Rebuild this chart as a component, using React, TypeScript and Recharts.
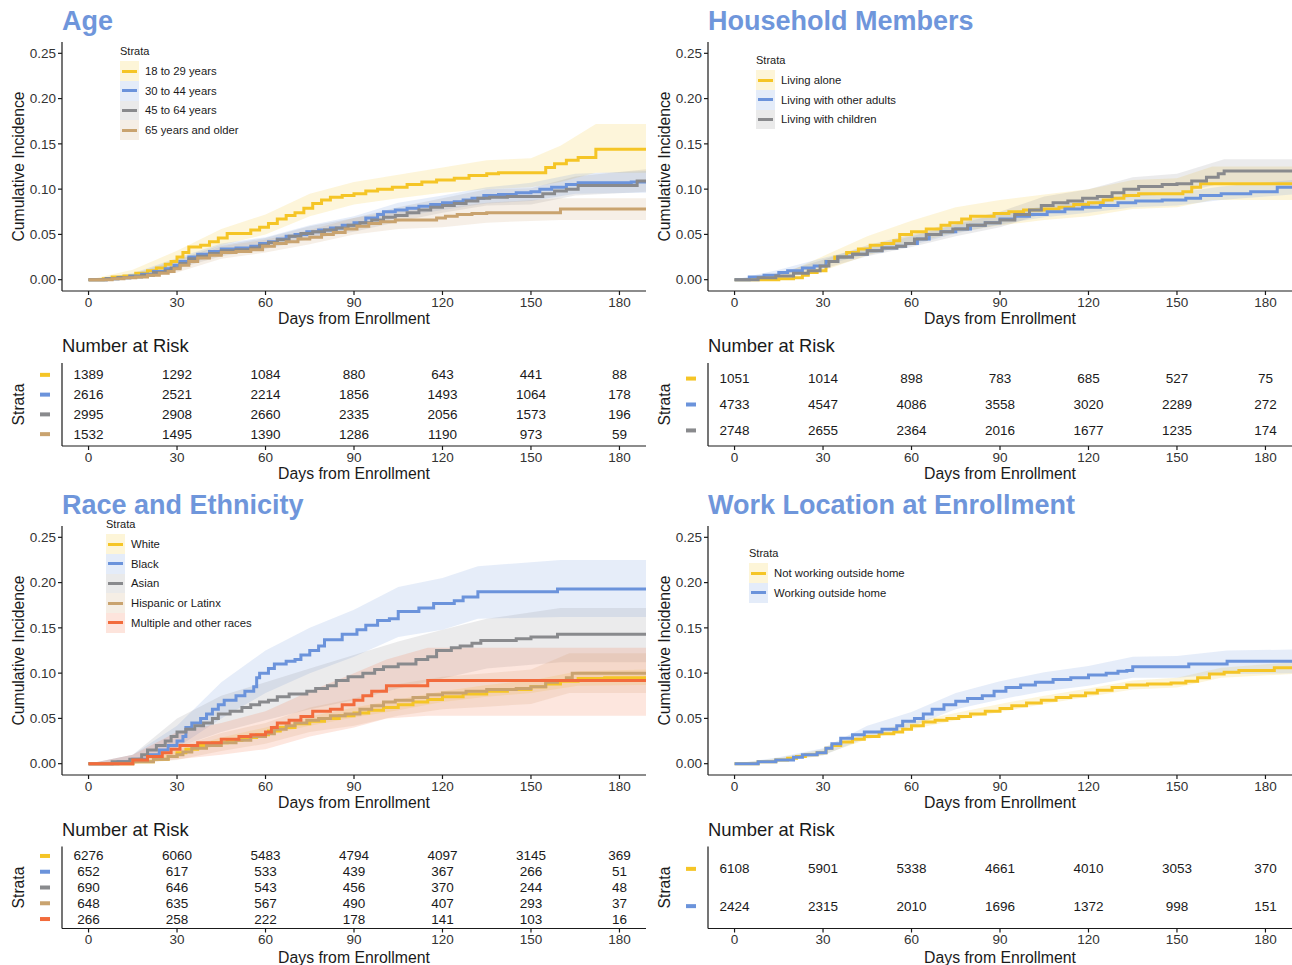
import React from 'react';
import { ComposedChart, ScatterChart, Line, Area, Scatter, XAxis, YAxis } from 'recharts';

const days = [0, 30, 60, 90, 120, 150, 180];
const incidenceTicks = [0, 0.05, 0.1, 0.15, 0.2, 0.25];

const YELLOW = '#F5C526';
const BLUE = '#6B93DB';
const GRAY = '#898A8D';
const TAN = '#C9A36F';
const ORANGE = '#F26B3C';
const TITLE = '#6F96DB';
const INK = '#1a1a1a';

// ---- Age: [day, cumulative incidence] ----
const age18to29 = [[0,0],[5,0.001],[8,0.003],[12,0.004],[16,0.007],[20,0.01],[23,0.013],[26,0.017],[28,0.02],[30,0.025],[32,0.03],[34,0.036],[38,0.038],[41,0.042],[44,0.046],[47,0.051],[55,0.055],[58,0.058],[61,0.062],[64,0.067],[67,0.071],[70,0.074],[73,0.079],[76,0.084],[79,0.088],[82,0.091],[86,0.093],[90,0.095],[94,0.098],[98,0.1],[103,0.102],[108,0.105],[113,0.108],[118,0.11],[124,0.112],[129,0.115],[135,0.117],[139,0.118],[155,0.124],[158,0.128],[162,0.132],[166,0.135],[172,0.144],[189,0.144]];
const age30to44 = [[0,0],[6,0.001],[10,0.002],[14,0.004],[18,0.006],[22,0.009],[26,0.012],[29,0.016],[31,0.02],[34,0.025],[37,0.028],[41,0.031],[45,0.034],[50,0.035],[55,0.037],[58,0.04],[61,0.042],[64,0.045],[67,0.048],[70,0.05],[74,0.053],[78,0.055],[82,0.057],[86,0.06],[90,0.063],[94,0.068],[98,0.072],[100,0.075],[104,0.077],[108,0.079],[112,0.081],[116,0.083],[120,0.085],[124,0.086],[127,0.088],[130,0.09],[134,0.093],[139,0.094],[145,0.096],[150,0.097],[153,0.1],[157,0.102],[162,0.105],[166,0.107],[184,0.108],[189,0.108]];
const age45to64 = [[0,0],[6,0.001],[10,0.002],[14,0.003],[18,0.005],[22,0.008],[26,0.01],[28,0.013],[31,0.018],[34,0.023],[37,0.026],[41,0.029],[45,0.032],[50,0.033],[55,0.035],[58,0.038],[61,0.041],[64,0.044],[68,0.048],[72,0.051],[76,0.053],[80,0.055],[84,0.057],[88,0.06],[92,0.063],[96,0.066],[100,0.069],[104,0.071],[108,0.074],[112,0.077],[116,0.08],[120,0.082],[124,0.084],[128,0.087],[132,0.09],[136,0.091],[142,0.092],[154,0.095],[158,0.098],[162,0.1],[166,0.104],[186,0.109],[189,0.109]];
const age65plus = [[0,0],[8,0.001],[12,0.002],[16,0.003],[20,0.005],[24,0.007],[27,0.009],[29,0.012],[31,0.016],[34,0.02],[37,0.024],[41,0.027],[45,0.03],[50,0.031],[55,0.033],[59,0.037],[63,0.04],[67,0.042],[71,0.045],[75,0.047],[79,0.05],[83,0.052],[87,0.056],[91,0.059],[95,0.062],[99,0.064],[104,0.066],[118,0.068],[121,0.07],[125,0.072],[130,0.073],[135,0.074],[160,0.078],[189,0.078]];
// confidence bands: [day, lower, upper]
const age18to29Band = [[0,0,0],[15,0.003,0.011],[30,0.018,0.032],[45,0.038,0.056],[60,0.05,0.072],[75,0.07,0.095],[90,0.083,0.108],[105,0.09,0.116],[120,0.096,0.124],[135,0.1,0.132],[150,0.102,0.134],[160,0.108,0.148],[172,0.118,0.172],[189,0.118,0.172]];
const age30to44Band = [[0,0,0],[15,0.002,0.007],[30,0.014,0.024],[45,0.028,0.04],[60,0.035,0.047],[75,0.046,0.06],[90,0.056,0.07],[105,0.069,0.085],[120,0.077,0.093],[135,0.084,0.102],[150,0.087,0.107],[165,0.095,0.117],[189,0.096,0.12]];
const age45to64Band = [[0,0,0],[15,0.001,0.006],[30,0.012,0.022],[45,0.026,0.038],[60,0.034,0.046],[75,0.045,0.059],[90,0.053,0.068],[105,0.064,0.08],[120,0.074,0.09],[135,0.082,0.1],[150,0.083,0.101],[165,0.093,0.114],[189,0.097,0.122]];
const age65plusBand = [[0,0,0],[15,0.001,0.005],[30,0.008,0.018],[45,0.023,0.037],[60,0.03,0.044],[75,0.039,0.055],[90,0.05,0.068],[105,0.056,0.076],[120,0.058,0.08],[135,0.063,0.085],[160,0.066,0.09],[189,0.066,0.09]];
const riskAge18to29 = [1389, 1292, 1084, 880, 643, 441, 88];
const riskAge30to44 = [2616, 2521, 2214, 1856, 1493, 1064, 178];
const riskAge45to64 = [2995, 2908, 2660, 2335, 2056, 1573, 196];
const riskAge65plus = [1532, 1495, 1390, 1286, 1190, 973, 59];

// ---- Household members ----
const hhAlone = [[0,0],[15,0.001],[20,0.002],[23,0.005],[25,0.008],[28,0.01],[31,0.02],[34,0.025],[38,0.03],[42,0.034],[46,0.038],[50,0.04],[54,0.043],[56,0.05],[60,0.053],[65,0.056],[70,0.06],[73,0.063],[77,0.067],[80,0.07],[88,0.073],[93,0.075],[98,0.077],[105,0.078],[110,0.08],[115,0.083],[120,0.085],[125,0.088],[128,0.09],[132,0.093],[137,0.095],[152,0.097],[155,0.102],[158,0.106],[189,0.106]];
const hhAdults = [[0,0],[5,0.003],[10,0.005],[15,0.008],[18,0.01],[23,0.013],[27,0.015],[31,0.02],[35,0.025],[40,0.028],[45,0.032],[50,0.035],[55,0.037],[58,0.04],[62,0.045],[66,0.05],[70,0.053],[75,0.056],[80,0.06],[85,0.063],[90,0.067],[95,0.07],[100,0.072],[106,0.075],[112,0.078],[118,0.08],[124,0.082],[130,0.085],[136,0.087],[145,0.088],[153,0.09],[158,0.093],[165,0.095],[175,0.097],[184,0.102],[189,0.102]];
const hhChildren = [[0,0],[8,0.002],[14,0.004],[20,0.007],[25,0.01],[29,0.015],[32,0.02],[35,0.025],[40,0.028],[45,0.032],[50,0.035],[55,0.037],[58,0.04],[61,0.045],[65,0.05],[70,0.053],[74,0.056],[79,0.06],[85,0.063],[90,0.066],[95,0.072],[100,0.077],[104,0.082],[108,0.085],[113,0.087],[118,0.09],[123,0.092],[128,0.096],[132,0.1],[137,0.103],[145,0.105],[150,0.106],[155,0.109],[160,0.113],[164,0.117],[166,0.12],[189,0.12]];
const hhAloneBand = [[0,0,0],[15,0,0.004],[30,0.01,0.026],[45,0.027,0.048],[60,0.04,0.065],[75,0.052,0.08],[90,0.06,0.088],[105,0.066,0.094],[120,0.07,0.1],[135,0.078,0.11],[150,0.08,0.112],[162,0.088,0.125],[189,0.088,0.125]];
const hhAdultsBand = [[0,0,0],[15,0.005,0.011],[30,0.016,0.024],[45,0.028,0.036],[60,0.038,0.048],[75,0.051,0.061],[90,0.061,0.073],[105,0.069,0.081],[120,0.074,0.086],[135,0.08,0.094],[150,0.082,0.096],[165,0.088,0.103],[189,0.094,0.11]];
const hhChildrenBand = [[0,0,0],[15,0.002,0.007],[30,0.012,0.022],[45,0.026,0.038],[60,0.036,0.05],[75,0.048,0.064],[90,0.058,0.075],[105,0.073,0.092],[120,0.081,0.1],[135,0.092,0.113],[150,0.095,0.117],[166,0.107,0.133],[189,0.107,0.133]];
const riskHhAlone = [1051, 1014, 898, 783, 685, 527, 75];
const riskHhAdults = [4733, 4547, 4086, 3558, 3020, 2289, 272];
const riskHhChildren = [2748, 2655, 2364, 2016, 1677, 1235, 174];

// ---- Race and ethnicity ----
const raceWhite = [[0,0],[15,0.002],[22,0.005],[27,0.008],[30,0.012],[33,0.016],[37,0.02],[42,0.023],[47,0.026],[52,0.029],[57,0.032],[61,0.036],[65,0.04],[70,0.044],[75,0.047],[80,0.05],[85,0.053],[90,0.056],[95,0.059],[100,0.062],[105,0.065],[110,0.068],[115,0.071],[120,0.074],[127,0.077],[135,0.08],[142,0.082],[150,0.085],[155,0.088],[160,0.091],[166,0.094],[175,0.095],[189,0.096]];
const raceBlack = [[0,0],[10,0.002],[15,0.005],[20,0.01],[24,0.015],[27,0.02],[30,0.025],[32,0.03],[33,0.04],[35,0.045],[38,0.05],[40,0.055],[42,0.06],[44,0.065],[46,0.07],[50,0.075],[53,0.08],[56,0.085],[57,0.095],[58,0.1],[61,0.105],[63,0.11],[67,0.113],[70,0.115],[72,0.12],[75,0.125],[78,0.13],[80,0.137],[86,0.143],[91,0.148],[94,0.153],[98,0.158],[102,0.16],[105,0.168],[112,0.172],[117,0.177],[124,0.18],[127,0.184],[132,0.19],[159,0.193],[189,0.193]];
const raceAsian = [[0,0],[8,0.002],[14,0.005],[18,0.01],[20,0.015],[23,0.02],[26,0.025],[28,0.03],[30,0.035],[33,0.038],[36,0.042],[39,0.045],[42,0.05],[44,0.055],[48,0.058],[52,0.062],[55,0.065],[58,0.068],[61,0.07],[64,0.074],[68,0.077],[74,0.08],[77,0.083],[81,0.086],[84,0.092],[88,0.096],[93,0.1],[97,0.104],[100,0.107],[105,0.11],[111,0.115],[115,0.118],[118,0.125],[123,0.128],[126,0.13],[130,0.133],[133,0.136],[145,0.138],[150,0.14],[159,0.143],[189,0.143]];
const raceHispanic = [[0,0],[15,0.002],[22,0.005],[27,0.008],[30,0.01],[32,0.013],[35,0.017],[40,0.02],[45,0.023],[50,0.026],[55,0.03],[60,0.033],[63,0.038],[67,0.042],[70,0.045],[74,0.048],[78,0.05],[82,0.053],[87,0.055],[92,0.06],[96,0.064],[100,0.068],[104,0.07],[110,0.073],[115,0.076],[120,0.078],[128,0.08],[135,0.082],[145,0.083],[150,0.085],[155,0.09],[159,0.092],[162,0.095],[164,0.1],[189,0.1]];
const raceMultiple = [[0,0],[15,0.004],[20,0.008],[25,0.012],[28,0.016],[31,0.02],[37,0.023],[45,0.027],[51,0.03],[55,0.032],[60,0.035],[62,0.04],[64,0.045],[68,0.048],[72,0.052],[76,0.058],[82,0.06],[86,0.065],[90,0.07],[93,0.075],[96,0.08],[101,0.086],[115,0.092],[189,0.092]];
const raceWhiteBand = [[0,0,0],[15,0.001,0.003],[30,0.009,0.015],[45,0.021,0.029],[60,0.031,0.04],[75,0.042,0.052],[90,0.051,0.062],[105,0.059,0.071],[120,0.068,0.08],[135,0.074,0.087],[150,0.078,0.092],[166,0.086,0.102],[189,0.087,0.104]];
const raceBlackBand = [[0,0,0],[15,0.001,0.01],[30,0.018,0.042],[45,0.05,0.09],[60,0.078,0.125],[75,0.1,0.15],[90,0.118,0.17],[105,0.14,0.195],[120,0.148,0.205],[132,0.16,0.218],[160,0.162,0.225],[189,0.162,0.225]];
const raceAsianBand = [[0,0,0],[15,0.001,0.01],[30,0.018,0.05],[45,0.035,0.075],[60,0.048,0.09],[75,0.06,0.105],[90,0.07,0.12],[105,0.083,0.135],[120,0.094,0.148],[135,0.105,0.16],[160,0.112,0.172],[189,0.112,0.172]];
const raceHispanicBand = [[0,0,0],[15,0,0.005],[30,0.004,0.018],[45,0.014,0.034],[60,0.022,0.045],[75,0.035,0.062],[90,0.042,0.072],[105,0.053,0.088],[120,0.06,0.096],[135,0.063,0.1],[150,0.066,0.104],[163,0.078,0.122],[189,0.078,0.122]];
const raceMultipleBand = [[0,0,0],[15,0,0.01],[30,0.005,0.035],[45,0.01,0.045],[60,0.016,0.058],[75,0.03,0.08],[90,0.04,0.1],[101,0.05,0.115],[115,0.053,0.128],[189,0.053,0.128]];
const riskWhite = [6276, 6060, 5483, 4794, 4097, 3145, 369];
const riskBlack = [652, 617, 533, 439, 367, 266, 51];
const riskAsian = [690, 646, 543, 456, 370, 244, 48];
const riskHispanic = [648, 635, 567, 490, 407, 293, 37];
const riskMultiple = [266, 258, 222, 178, 141, 103, 16];

// ---- Work location ----
const workInside = [[0,0],[8,0.002],[14,0.004],[18,0.006],[21,0.008],[24,0.01],[28,0.012],[31,0.017],[33,0.02],[36,0.024],[40,0.027],[44,0.03],[49,0.033],[54,0.035],[57,0.038],[60,0.042],[64,0.046],[68,0.048],[72,0.05],[76,0.052],[80,0.055],[85,0.058],[90,0.061],[94,0.064],[99,0.067],[104,0.07],[109,0.073],[114,0.075],[119,0.078],[123,0.081],[128,0.084],[133,0.087],[140,0.088],[148,0.089],[153,0.091],[157,0.095],[161,0.099],[166,0.101],[171,0.103],[183,0.106],[189,0.106]];
const workOutside = [[0,0],[8,0.002],[14,0.004],[20,0.007],[23,0.01],[28,0.012],[31,0.017],[33,0.022],[36,0.028],[40,0.032],[44,0.035],[50,0.038],[55,0.042],[57,0.047],[61,0.05],[64,0.055],[67,0.06],[71,0.065],[75,0.069],[79,0.072],[84,0.075],[88,0.08],[92,0.084],[97,0.087],[102,0.09],[108,0.093],[114,0.095],[120,0.098],[126,0.1],[130,0.102],[133,0.103],[135,0.107],[154,0.11],[167,0.113],[189,0.113]];
const workInsideBand = [[0,0,0],[15,0.003,0.006],[30,0.01,0.016],[45,0.027,0.034],[60,0.038,0.046],[75,0.048,0.056],[90,0.057,0.066],[105,0.066,0.075],[120,0.074,0.083],[135,0.082,0.092],[150,0.084,0.095],[165,0.095,0.106],[189,0.099,0.112]];
const workOutsideBand = [[0,0,0],[15,0.002,0.007],[30,0.009,0.017],[45,0.029,0.042],[60,0.041,0.057],[75,0.06,0.078],[90,0.071,0.091],[105,0.08,0.101],[120,0.086,0.108],[135,0.095,0.118],[150,0.095,0.119],[167,0.099,0.125],[189,0.1,0.126]];
const riskWorkInside = [6108, 5901, 5338, 4661, 4010, 3053, 370];
const riskWorkOutside = [2424, 2315, 2010, 1696, 1372, 998, 151];

const panels = [
  {
    title: 'Age', left: 0, top: 0, legend: { x: 120, y: 51 },
    strata: [
      { name: '18 to 29 years', color: YELLOW, curve: age18to29, band: age18to29Band, risk: riskAge18to29 },
      { name: '30 to 44 years', color: BLUE, curve: age30to44, band: age30to44Band, risk: riskAge30to44 },
      { name: '45 to 64 years', color: GRAY, curve: age45to64, band: age45to64Band, risk: riskAge45to64 },
      { name: '65 years and older', color: TAN, curve: age65plus, band: age65plusBand, risk: riskAge65plus },
    ],
  },
  {
    title: 'Household Members', left: 646, top: 0, legend: { x: 756, y: 60 },
    strata: [
      { name: 'Living alone', color: YELLOW, curve: hhAlone, band: hhAloneBand, risk: riskHhAlone },
      { name: 'Living with other adults', color: BLUE, curve: hhAdults, band: hhAdultsBand, risk: riskHhAdults },
      { name: 'Living with children', color: GRAY, curve: hhChildren, band: hhChildrenBand, risk: riskHhChildren },
    ],
  },
  {
    title: 'Race and Ethnicity', left: 0, top: 484, legend: { x: 106, y: 524 },
    strata: [
      { name: 'White', color: YELLOW, curve: raceWhite, band: raceWhiteBand, risk: riskWhite },
      { name: 'Black', color: BLUE, curve: raceBlack, band: raceBlackBand, risk: riskBlack },
      { name: 'Asian', color: GRAY, curve: raceAsian, band: raceAsianBand, risk: riskAsian },
      { name: 'Hispanic or Latinx', color: TAN, curve: raceHispanic, band: raceHispanicBand, risk: riskHispanic },
      { name: 'Multiple and other races', color: ORANGE, curve: raceMultiple, band: raceMultipleBand, risk: riskMultiple },
    ],
  },
  {
    title: 'Work Location at Enrollment', left: 646, top: 484, legend: { x: 749, y: 553 },
    strata: [
      { name: 'Not working outside home', color: YELLOW, curve: workInside, band: workInsideBand, risk: riskWorkInside },
      { name: 'Working outside home', color: BLUE, curve: workOutside, band: workOutsideBand, risk: riskWorkOutside },
    ],
  },
];

const PANEL_W = 646;
const axisLine = { stroke: INK, strokeWidth: 1.2 };
const tickStyle = { fontSize: 13.5, fill: '#333' };
const xLabel = (offset) => ({ value: 'Days from Enrollment', position: 'insideBottom', offset, fontSize: 15.8, fill: INK });

function StrataLegend({ x, y, strata }) {
  return (
    <>
      <div style={{ position: 'absolute', left: x, top: y - 7, fontSize: 11, lineHeight: '14px', color: INK }}>Strata</div>
      {strata.map((s, i) => {
        const cy = y + 20 + i * 19.7;
        return (
          <React.Fragment key={s.name}>
            <div style={{ position: 'absolute', left: x, top: cy - 9.8, width: 18.5, height: 19.7, background: s.color + '2E' }} />
            <div style={{ position: 'absolute', left: x + 2, top: cy - 1.5, width: 14.5, height: 3, background: s.color }} />
            <div style={{ position: 'absolute', left: x + 25, top: cy - 7, fontSize: 11.3, lineHeight: '14px', color: INK, whiteSpace: 'nowrap' }}>{s.name}</div>
          </React.Fragment>
        );
      })}
    </>
  );
}

function KmPanel({ panel }) {
  const { title, left, top, strata, legend } = panel;
  const n = strata.length;
  const rows = strata.map((_, i) => n - i);
  const upper = top === 0;
  // risk table geometry: upper tables run 330..486, lower tables 812..965
  const table = upper
    ? { top: 330, height: 156, marginTop: 33, axisH: 40, labelOffset: 7, titleTop: 335 }
    : { top: 812, height: 153, marginTop: 34.5, axisH: 36.5, labelOffset: 2.3, titleTop: 819 };
  return (
    <>
      <div style={{ position: 'absolute', left: left + 62, top: top + 6, fontSize: 27, fontWeight: 700, lineHeight: '30px', color: TITLE, whiteSpace: 'nowrap' }}>{title}</div>
      <div style={{ position: 'absolute', left, top }}>
        <ComposedChart width={PANEL_W} height={331} margin={{ top: 42, right: 0, bottom: 0, left: 0 }}>
          <XAxis type="number" dataKey="day" domain={[-9, 189]} ticks={days} allowDataOverflow height={40}
            axisLine={axisLine} tickLine={axisLine} tickSize={4} tick={tickStyle} label={xLabel(7)} />
          <YAxis type="number" domain={[-0.0125, 0.2625]} ticks={incidenceTicks} allowDataOverflow width={62}
            axisLine={axisLine} tickLine={axisLine} tickSize={4} tick={tickStyle}
            tickFormatter={(v) => v.toFixed(2)}
            label={{ value: 'Cumulative Incidence', angle: -90, position: 'insideLeft', offset: 18, fontSize: 15.7, fill: INK, style: { textAnchor: 'middle' } }} />
          {strata.map((s) => (
            <Area key={s.name + '-band'} data={s.band.map(([day, lo, hi]) => ({ day, band: [lo, hi] }))} dataKey="band"
              type="linear" stroke="none" fill={s.color} fillOpacity={0.17} isAnimationActive={false} />
          ))}
          {strata.map((s) => (
            <Line key={s.name} data={s.curve.map(([day, v]) => ({ day, v }))} dataKey="v" type="stepAfter"
              stroke={s.color} strokeWidth={3} dot={false} activeDot={false} isAnimationActive={false} />
          ))}
        </ComposedChart>
      </div>
      <StrataLegend x={legend.x} y={legend.y} strata={strata} />
      <div style={{ position: 'absolute', left: left + 62, top: table.titleTop, fontSize: 18.4, lineHeight: '22px', color: INK, whiteSpace: 'nowrap' }}>Number at Risk</div>
      <div style={{ position: 'absolute', left, top: table.top }}>
        <ScatterChart width={PANEL_W} height={table.height} margin={{ top: table.marginTop, right: 0, bottom: 0, left: 0 }}>
          <XAxis type="number" dataKey="day" domain={[-9, 189]} ticks={days} allowDataOverflow height={table.axisH}
            axisLine={axisLine} tickLine={axisLine} tickSize={4} tick={tickStyle} label={xLabel(table.labelOffset)} />
          <YAxis type="number" dataKey="row" domain={[0.4, n + 0.6]} ticks={rows} interval={0} width={62}
            axisLine={axisLine} tickLine={false}
            tick={(p) => <rect x={40} y={p.y - 2} width={10} height={4} fill={strata[n - p.payload.value].color} />}
            label={{ value: 'Strata', angle: -90, position: 'insideLeft', offset: 18, fontSize: 15.7, fill: INK, style: { textAnchor: 'middle' } }} />
          {strata.map((s, i) => (
            <Scatter key={s.name} data={days.map((d, j) => ({ day: d, row: n - i, count: s.risk[j] }))}
              isAnimationActive={false}
              shape={(p) => (
                <text x={p.cx} y={p.cy} textAnchor="middle" dominantBaseline="central" fontSize={13.5} fill={INK}>{p.payload.count}</text>
              )} />
          ))}
        </ScatterChart>
      </div>
    </>
  );
}

export default function App() {
  return (
    <div style={{ position: 'relative', width: 1292, height: 965, overflow: 'hidden', background: '#fff', fontFamily: '"Liberation Sans", Arial, sans-serif' }}>
      <style>{'body{margin:0}'}</style>
      {panels.map((p) => <KmPanel key={p.title} panel={p} />)}
    </div>
  );
}
